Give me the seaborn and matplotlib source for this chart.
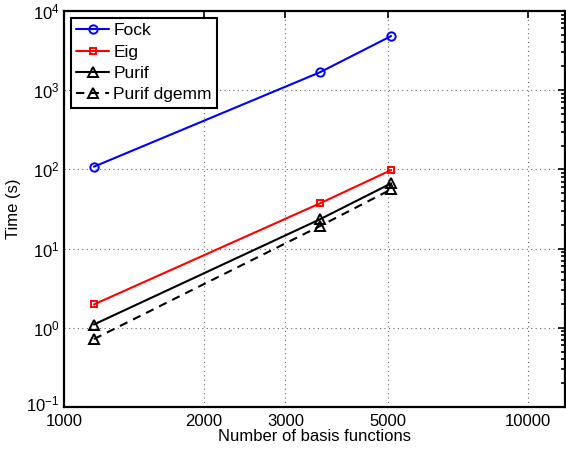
import matplotlib
matplotlib.use("Agg")
import matplotlib.pyplot as plt
import matplotlib.transforms as mtransforms
import seaborn as sns
import numpy as np
import pandas as pd
from matplotlib.ticker import FixedLocator, FixedFormatter, LogLocator, NullLocator, FuncFormatter

sns.set_theme(style="white")
plt.rcParams['font.family'] = ['Liberation Sans', 'DejaVu Sans']
plt.rcParams['mathtext.fontset'] = 'custom'
plt.rcParams['mathtext.rm'] = 'Liberation Sans'
plt.rcParams['mathtext.it'] = 'Liberation Sans:italic'
plt.rcParams['mathtext.default'] = 'regular'
plt.rcParams['text.color'] = 'black'
plt.rcParams['axes.labelcolor'] = 'black'
plt.rcParams['xtick.color'] = 'black'
plt.rcParams['ytick.color'] = 'black'

basis = [1160, 3560, 5070]
fock = [108, 1680, 4820]
eig = [1.97, 37.2, 98]
purif = [1.1, 23.4, 66.6]
purif_dgemm = [0.72, 19.2, 55.9]

series_names = ["Fock", "Eig", "Purif", "Purif dgemm"]
series_values = [fock, eig, purif, purif_dgemm]
colors = ["#0000ff", "#ff0000", "#000000", "#000000"]
markers = ["o", "s", "^", "^"]
styles = ["-", "-", "-", "--"]

xticks = [1000, 2000, 3000, 5000, 10000]
xticklabels = ["1000", "2000", "3000", "5000", "10000"]

fig = plt.figure(figsize=(5.66, 4.55), dpi=100)
ax = fig.add_axes([0.113, 0.1055, 0.885, 0.8705])

msizes = {"o": 6, "s": 5, "^": 6.5}
for name, vals, c, m, ls in zip(series_names, series_values, colors, markers, styles):
    df = pd.DataFrame({"x": basis, "y": vals})
    sns.lineplot(data=df, x="x", y="y", ax=ax, color=c, marker=m, linestyle=ls,
                 markerfacecolor="none", markeredgecolor=c, markeredgewidth=1.4,
                 markersize=msizes[m], linewidth=1.5, label=name)
    if ls == "--":
        ax.lines[-1].set_dashes((4, 3))

ax.set_xscale("log")
ax.set_yscale("log")
ax.set_xlim(1000, 12000)
ax.set_ylim(0.1, 1e4)

ax.xaxis.set_major_locator(FixedLocator(xticks))
ax.xaxis.set_major_formatter(FixedFormatter(xticklabels))
ax.xaxis.set_minor_locator(NullLocator())
ax.yaxis.set_major_locator(LogLocator(base=10, numticks=10))
ax.yaxis.set_major_formatter(FuncFormatter(lambda v, p: r"$10^{%d}$" % int(round(np.log10(v)))))
ax.yaxis.set_minor_locator(LogLocator(base=10, subs=np.arange(2, 10), numticks=20))

ax.tick_params(axis="both", which="both", direction="in", top=True, right=True,
               labelsize=12, colors="black", width=1.2)
ax.tick_params(axis="both", which="major", length=5)
ax.tick_params(axis="x", which="major", pad=5)
ax.tick_params(axis="y", which="major", pad=3)
ax.tick_params(axis="y", which="minor", length=3)

ax.grid(True, which="major", linestyle=(0, (1, 3)), color="#666666", linewidth=0.8)
for s in ax.spines.values():
    s.set_color("black")
    s.set_linewidth(1.6)

ax.set_xlabel("Number of basis functions", fontsize=12, labelpad=0, color="black")
ax.set_ylabel("Time (s)", fontsize=12, labelpad=4, color="black")

leg = ax.legend(loc="upper left", fontsize=12.5, frameon=True, fancybox=False,
                edgecolor="black", framealpha=1, borderpad=0.3, labelspacing=0.36,
                handlelength=1.9, handletextpad=0.25, borderaxespad=0.4)
leg.get_frame().set_linewidth(1.5)
for t in leg.get_texts():
    t.set_color("black")

fig.canvas.draw()
# nudge the lowest y tick label up slightly, as in the reference
for lbl in ax.get_yticklabels():
    if lbl.get_position()[1] <= 0.1 + 1e-9:
        lbl.set_transform(lbl.get_transform() + mtransforms.ScaledTranslation(0, 4 / 100, fig.dpi_scale_trans))

fig.savefig("out.png", dpi=100)
